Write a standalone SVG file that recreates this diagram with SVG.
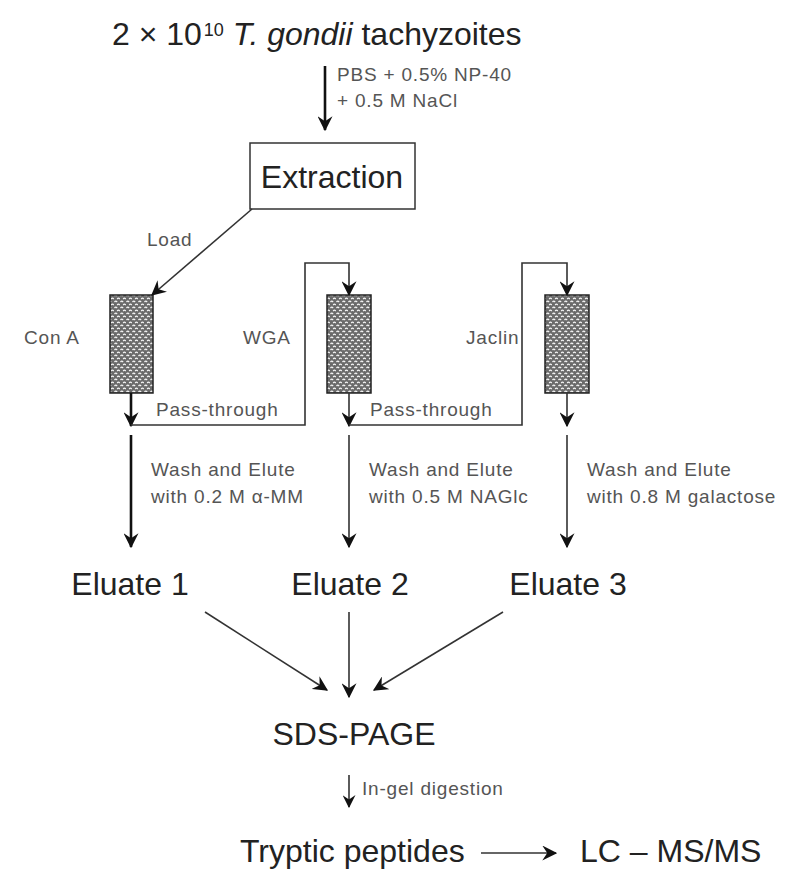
<svg xmlns="http://www.w3.org/2000/svg" width="800" height="884" viewBox="0 0 800 884">
<defs>
<style>
.big{font-family:"Liberation Sans",Arial,sans-serif;font-size:32px;fill:#222}
.sm{font-family:"Liberation Sans",Arial,sans-serif;font-size:19px;letter-spacing:0.8px;fill:#555}
.line{fill:none;stroke:#333;stroke-width:1.6}
.thick{fill:none;stroke:#111;stroke-width:2.6}
.col{fill:url(#beads);stroke:#222;stroke-width:1.5}
</style>
<marker id="ah" viewBox="0 0 12 12" refX="11" refY="6" markerWidth="15" markerHeight="15" markerUnits="userSpaceOnUse" orient="auto">
<path d="M0,0 L12,6 L0,12 L4,6 z" fill="#111"/>
</marker>
<marker id="ahs" viewBox="0 0 12 12" refX="11" refY="6" markerWidth="13" markerHeight="13" markerUnits="userSpaceOnUse" orient="auto">
<path d="M0,0 L12,6 L0,12 L4,6 z" fill="#111"/>
</marker>
<pattern id="beads" width="6" height="6" patternUnits="userSpaceOnUse">
<rect width="6" height="6" fill="#6a6a6a"/>
<path d="M0.5,2 q1.3,-1.6 2.6,0 M3.2,5 q1.3,-1.6 2.6,0" stroke="#f6f6f6" stroke-width="1.3" fill="none"/>
</pattern>
</defs>
<rect width="800" height="884" fill="#fff"/>

<g id="source">
<text class="big" x="112" y="45" font-size="33">2 × 10<tspan font-size="18" dx="2" dy="-9">10</tspan><tspan dy="9" font-style="italic"> T. gondii</tspan> tachyzoites</text>
</g>

<g id="extraction">
<rect x="250" y="143" width="165" height="66" fill="#fff" stroke="#333" stroke-width="1.5"/>
<text class="big" x="332" y="188" text-anchor="middle">Extraction</text>
</g>

<g id="conA">
<rect class="col" x="110" y="295" width="43" height="98"/>
<text class="sm" x="24" y="344">Con A</text>
</g>
<g id="wga">
<rect class="col" x="327" y="295" width="44" height="98"/>
<text class="sm" x="243" y="344">WGA</text>
</g>
<g id="jaclin">
<rect class="col" x="545" y="295" width="44" height="98"/>
<text class="sm" x="466" y="344">Jaclin</text>
</g>

<g id="eluate1"><text class="big" x="130" y="595" text-anchor="middle">Eluate 1</text></g>
<g id="eluate2"><text class="big" x="350" y="595" text-anchor="middle">Eluate 2</text></g>
<g id="eluate3"><text class="big" x="568" y="595" text-anchor="middle">Eluate 3</text></g>

<g id="sdspage"><text class="big" x="354" y="745" text-anchor="middle">SDS-PAGE</text></g>
<g id="tryptic"><text class="big" x="240" y="862">Tryptic peptides</text></g>
<g id="lcms"><text class="big" x="580" y="862">LC – MS/MS</text></g>

<g id="connectors">
<line class="thick" x1="325" y1="66" x2="325" y2="130" marker-end="url(#ah)"/>
<text class="sm" x="337" y="81">PBS + 0.5% NP-40</text>
<text class="sm" x="337" y="107">+ 0.5 M NaCl</text>

<line class="line" x1="252" y1="209" x2="152" y2="295" marker-end="url(#ah)"/>
<text class="sm" x="147" y="246">Load</text>

<line class="thick" x1="131" y1="393" x2="131" y2="426" marker-end="url(#ah)"/>
<polyline class="line" points="131,425 305,425 305,263 349,263 349,295" marker-end="url(#ah)"/>
<text class="sm" x="156" y="416">Pass-through</text>

<line class="line" x1="349" y1="393" x2="349" y2="426" marker-end="url(#ah)"/>
<polyline class="line" points="349,425 522,425 522,263 567,263 567,295" marker-end="url(#ah)"/>
<text class="sm" x="370" y="416">Pass-through</text>

<line class="line" x1="567" y1="393" x2="567" y2="426" marker-end="url(#ah)"/>

<line class="thick" x1="131" y1="435" x2="131" y2="547" marker-end="url(#ah)"/>
<text class="sm" x="151" y="476">Wash and Elute</text>
<text class="sm" x="151" y="503">with 0.2 M α-MM</text>
<line class="line" x1="349" y1="435" x2="349" y2="547" marker-end="url(#ah)"/>
<text class="sm" x="369" y="476">Wash and Elute</text>
<text class="sm" x="369" y="503">with 0.5 M NAGlc</text>
<line class="line" x1="567" y1="435" x2="567" y2="547" marker-end="url(#ah)"/>
<text class="sm" x="587" y="476">Wash and Elute</text>
<text class="sm" x="587" y="503">with 0.8 M galactose</text>

<line class="line" x1="205" y1="612" x2="327" y2="690" marker-end="url(#ah)"/>
<line class="line" x1="349" y1="612" x2="349" y2="697" marker-end="url(#ah)"/>
<line class="line" x1="503" y1="612" x2="374" y2="690" marker-end="url(#ah)"/>

<line class="line" x1="349" y1="775" x2="349" y2="807" stroke-width="2" marker-end="url(#ahs)"/>
<text class="sm" x="362" y="795" font-size="16" letter-spacing="1">In-gel digestion</text>

<line class="line" x1="481" y1="853" x2="556" y2="853" marker-end="url(#ah)"/>
</g>
</svg>
